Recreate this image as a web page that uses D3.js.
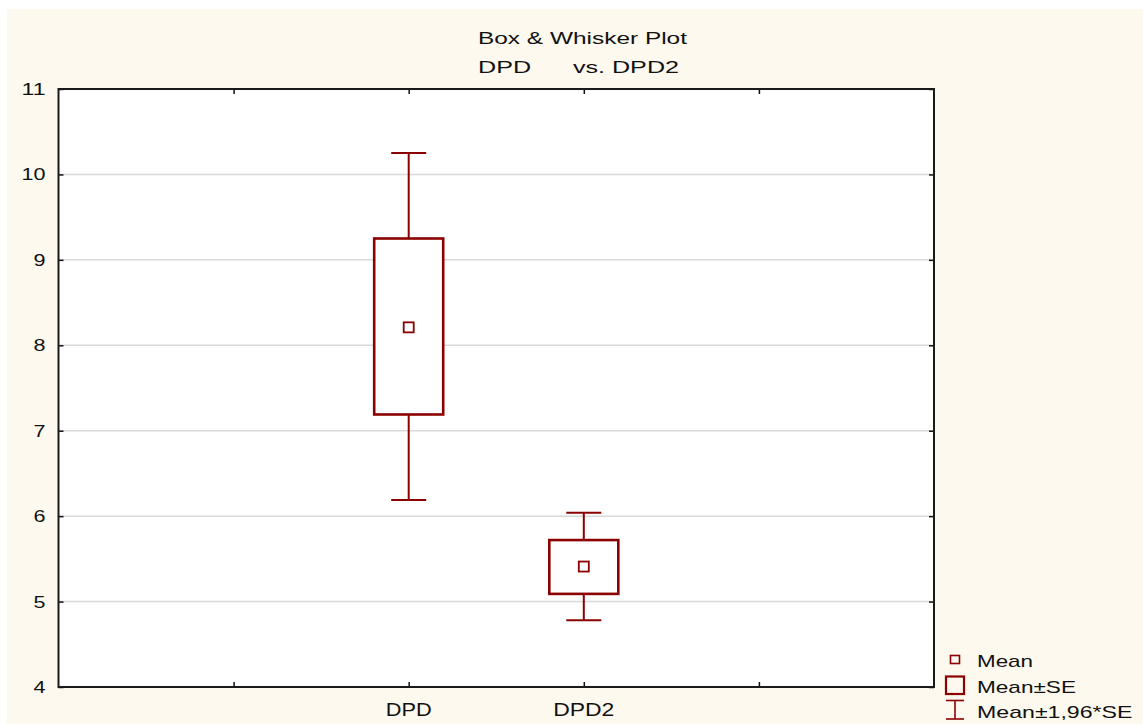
<!DOCTYPE html>
<html>
<head>
<meta charset="utf-8">
<script src="https://cdn.jsdelivr.net/npm/d3@7"></script>
<style>
  html, body { margin: 0; padding: 0; background: #ffffff; }
  svg { display: block; }
  text { font-family: "Liberation Sans", Arial, sans-serif; fill: #111; }
</style>
</head>
<body>
<svg id="chart" width="1143" height="724"></svg>
<script>
// ---- Data ----
const categories = ["DPD", "DPD2"];
const means      = [8.21, 5.41];
const seLow      = [7.19, 5.09];   // Mean - SE
const seHigh     = [9.25, 5.72];   // Mean + SE
const ciLow      = [6.19, 4.78];   // Mean - 1.96*SE
const ciHigh     = [10.25, 6.04];  // Mean + 1.96*SE
const yTicks     = [4, 5, 6, 7, 8, 9, 10, 11];
const titleLines = ["Box & Whisker Plot", "DPD      vs. DPD2"];
const legendLabels = ["Mean", "Mean\u00B1SE", "Mean\u00B11,96*SE"];

// ---- Layout ----
const W = 1143, H = 724;
const plot = { left: 58.5, right: 934, top: 89, bottom: 687 };
const dark = "#8B0000";

const svg = d3.select("#chart");
svg.append("rect").attr("x", 7).attr("y", 9).attr("width", W - 7).attr("height", H - 9)
   .attr("fill", "#FDF9EF");
svg.append("rect").attr("x", plot.left).attr("y", plot.top)
   .attr("width", plot.right - plot.left).attr("height", plot.bottom - plot.top)
   .attr("fill", "#ffffff");

const x = d3.scaleLinear().domain([0, 5]).range([plot.left, plot.right]);
const y = d3.scaleLinear().domain([4, 11]).range([plot.bottom, plot.top]);
const xPos = i => x(i + 2);

// grid lines
svg.append("g").selectAll("line").data(yTicks.filter(t => t > 4 && t < 11)).join("line")
  .attr("x1", plot.left).attr("x2", plot.right)
  .attr("y1", d => y(d)).attr("y2", d => y(d))
  .attr("stroke", "#D9D9D9").attr("stroke-width", 1.5);

// axes (ticks inside)
const axL = svg.append("g").attr("transform", `translate(${plot.left},0)`)
  .call(d3.axisLeft(y).tickValues(yTicks).tickSize(-5).tickPadding(13).tickFormat(d3.format("d")));
const axR = svg.append("g").attr("transform", `translate(${plot.right},0)`)
  .call(d3.axisRight(y).tickValues(yTicks).tickSize(-5).tickFormat(""));
const axB = svg.append("g").attr("transform", `translate(0,${plot.bottom})`)
  .call(d3.axisBottom(x).tickValues([1, 2, 3, 4]).tickSize(-5).tickFormat(""));
const axT = svg.append("g").attr("transform", `translate(0,${plot.top})`)
  .call(d3.axisTop(x).tickValues([1, 2, 3, 4]).tickSize(-5).tickFormat(""));
[axL, axR, axB, axT].forEach(a => {
  a.select(".domain").remove();
  a.selectAll(".tick line").attr("stroke", "#111").attr("stroke-width", 1.5);
});
axL.selectAll(".tick text")
  .attr("font-size", 17).attr("font-family", "Liberation Sans, Arial, sans-serif")
  .attr("fill", "#111")
  .attr("textLength", d => String(d).length * 12).attr("lengthAdjust", "spacingAndGlyphs");

// frame
svg.append("rect").attr("x", plot.left).attr("y", plot.top)
   .attr("width", plot.right - plot.left).attr("height", plot.bottom - plot.top)
   .attr("fill", "none").attr("stroke", "#1a1a1a").attr("stroke-width", 2);

// x category labels
svg.append("g").selectAll("text").data(categories).join("text")
  .attr("x", (d, i) => xPos(i)).attr("y", 716)
  .attr("text-anchor", "middle").attr("font-size", 18)
  .attr("textLength", d => d.length * 15.3).attr("lengthAdjust", "spacingAndGlyphs")
  .text(d => d);

// title
svg.append("g").selectAll("text").data(titleLines).join("text")
  .attr("x", (d, i) => i === 0 ? 582.5 : 578.5).attr("y", (d, i) => i === 0 ? 43.5 : 72.5)
  .attr("text-anchor", "middle").attr("font-size", 16.5)
  .style("white-space", "pre")
  .attr("textLength", (d, i) => i === 0 ? 209 : 201).attr("lengthAdjust", "spacingAndGlyphs")
  .text(d => d);

// boxes & whiskers
const capW = 35, boxW = 69, meanS = 10;
const g = svg.append("g").selectAll("g").data(categories).join("g");
g.append("line")
  .attr("x1", (d, i) => xPos(i)).attr("x2", (d, i) => xPos(i))
  .attr("y1", (d, i) => y(ciHigh[i])).attr("y2", (d, i) => y(ciLow[i]))
  .attr("stroke", dark).attr("stroke-width", 2);
g.append("line")
  .attr("x1", (d, i) => xPos(i) - capW / 2).attr("x2", (d, i) => xPos(i) + capW / 2)
  .attr("y1", (d, i) => y(ciHigh[i])).attr("y2", (d, i) => y(ciHigh[i]))
  .attr("stroke", dark).attr("stroke-width", 2);
g.append("line")
  .attr("x1", (d, i) => xPos(i) - capW / 2).attr("x2", (d, i) => xPos(i) + capW / 2)
  .attr("y1", (d, i) => y(ciLow[i])).attr("y2", (d, i) => y(ciLow[i]))
  .attr("stroke", dark).attr("stroke-width", 2);
g.append("rect")
  .attr("x", (d, i) => xPos(i) - boxW / 2).attr("width", boxW)
  .attr("y", (d, i) => y(seHigh[i])).attr("height", (d, i) => y(seLow[i]) - y(seHigh[i]))
  .attr("fill", "#ffffff").attr("stroke", dark).attr("stroke-width", 2.6);
g.append("rect")
  .attr("x", (d, i) => xPos(i) - meanS / 2).attr("width", meanS)
  .attr("y", (d, i) => y(means[i]) - meanS / 2).attr("height", meanS)
  .attr("fill", "#ffffff").attr("stroke", dark).attr("stroke-width", 1.8);

// legend
const lg = svg.append("g");
const lx = 955;
lg.append("rect").attr("x", lx - 4.5).attr("y", 655.5).attr("width", 9).attr("height", 8)
  .attr("fill", "none").attr("stroke", dark).attr("stroke-width", 1.6);
lg.append("rect").attr("x", lx - 9).attr("y", 676.5).attr("width", 18).attr("height", 17.5)
  .attr("fill", "none").attr("stroke", dark).attr("stroke-width", 2.2);
lg.append("line").attr("x1", lx - 9).attr("x2", lx + 9).attr("y1", 700.5).attr("y2", 700.5)
  .attr("stroke", dark).attr("stroke-width", 1.6);
lg.append("line").attr("x1", lx - 9).attr("x2", lx + 9).attr("y1", 719).attr("y2", 719)
  .attr("stroke", dark).attr("stroke-width", 1.6);
lg.append("line").attr("x1", lx).attr("x2", lx).attr("y1", 700.5).attr("y2", 719)
  .attr("stroke", dark).attr("stroke-width", 1.6);
const legendW = [56, 99, 155.5];
const legendY = [666.5, 692.5, 717.5];
lg.selectAll("text").data(legendLabels).join("text")
  .attr("x", 977).attr("y", (d, i) => legendY[i])
  .attr("font-size", 17)
  .attr("textLength", (d, i) => legendW[i]).attr("lengthAdjust", "spacingAndGlyphs")
  .text(d => d);
</script>
</body>
</html>
